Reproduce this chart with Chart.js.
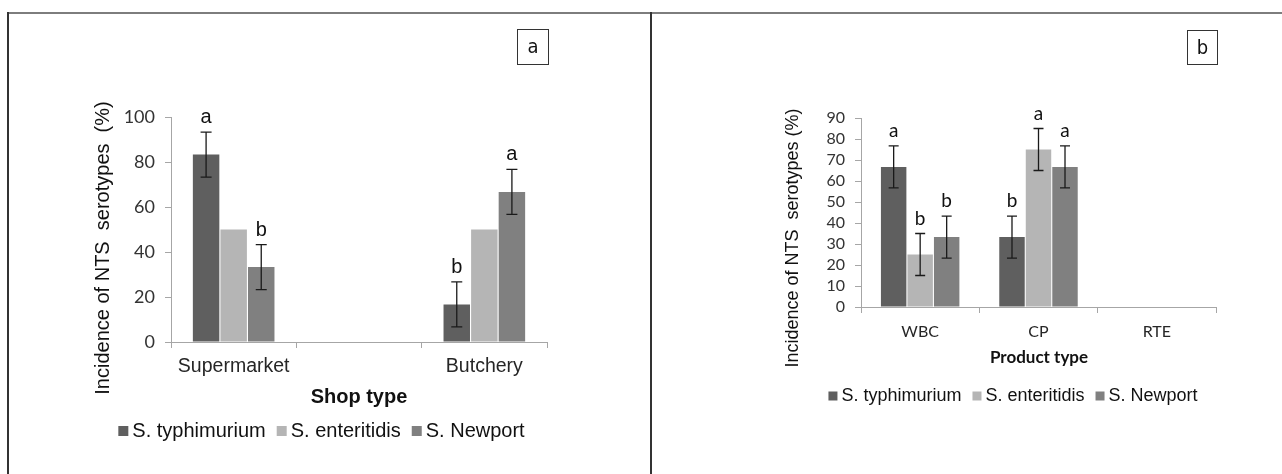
<!DOCTYPE html>
<html>
<head>
<meta charset="utf-8">
<script src="https://cdn.jsdelivr.net/npm/chart.js@4/dist/chart.umd.min.js"></script>
<style>
  html, body { margin: 0; padding: 0; background: #fff; }
  body { width: 1282px; height: 474px; position: relative; overflow: hidden; }
  .panel { position: absolute; top: 0; height: 474px; }
  .panel canvas { display: block; }
  #frameTop { position: absolute; left: 8px; top: 12px; width: 1274px; height: 2px; background: #7d7d7d; }
  #frameLeft { position: absolute; left: 7px; top: 12px; width: 2px; height: 462px; background: #333; }
  #frameMid { position: absolute; left: 650px; top: 12px; width: 2px; height: 462px; background: #333; }
  .tag {
    position: absolute; box-sizing: border-box; border: 1px solid #333;
    font-family: 'Liberation Sans Narrow', 'DejaVu Sans Condensed', 'Liberation Sans', sans-serif;
    font-size: 20px; color: #111; text-align: center;
  }
</style>
</head>
<body>
<div class="panel" style="left:0;width:651px;"><canvas id="shopChart" width="651" height="474"></canvas></div>
<div class="panel" style="left:651px;width:631px;"><canvas id="productChart" width="631" height="474"></canvas></div>
<div id="frameTop"></div>
<div id="frameLeft"></div>
<div id="frameMid"></div>
<div class="tag" style="left:517px;top:29px;width:32px;height:36px;line-height:33px;">a</div>
<div class="tag" style="left:1187px;top:30px;width:31px;height:35px;line-height:32px;">b</div>

<script>
// ---- Series names and colours ----
const seriesNames = ['S. typhimurium', 'S. enteritidis', 'S. Newport'];
const seriesColors = ['#5f5f5f', '#b5b5b5', '#808080'];

// ---- Panel a: incidence by shop type (%) ----
const shopTypes = ['Supermarket', '', 'Butchery'];
const shopTyphimurium = [83.3, null, 16.7];
const shopEnteritidis = [50, null, 50];
const shopNewport = [33.3, null, 66.7];
const shopTyphimuriumErr = [10, null, 10];
const shopEnteritidisErr = [null, null, null];
const shopNewportErr = [10, null, 10];
const shopTyphimuriumLetters = ['a', '', 'b'];
const shopEnteritidisLetters = ['', '', ''];
const shopNewportLetters = ['b', '', 'a'];
const shopTicks = { min: 0, max: 100, step: 20 };

// ---- Panel b: incidence by product type (%) ----
const productTypes = ['WBC', 'CP', 'RTE'];
const productTyphimurium = [66.7, 33.3, 0];
const productEnteritidis = [25, 75, 0];
const productNewport = [33.3, 66.7, 0];
const productTyphimuriumErr = [10, 10, null];
const productEnteritidisErr = [10, 10, null];
const productNewportErr = [10, 10, null];
const productTyphimuriumLetters = ['a', 'b', ''];
const productEnteritidisLetters = ['b', 'a', ''];
const productNewportLetters = ['b', 'a', ''];
const productTicks = { min: 0, max: 90, step: 10 };

// Error bars, significance letters, axis titles and legend
const panelDecor = {
  id: 'panelDecor',
  afterDatasetsDraw(chart, args, opts) {
    const ctx = chart.ctx;
    const yScale = chart.scales.y;
    ctx.save();
    chart.data.datasets.forEach((ds, di) => {
      const meta = chart.getDatasetMeta(di);
      meta.data.forEach((bar, i) => {
        const v = ds.data[i];
        if (v == null) return;
        const e = ds.errors ? ds.errors[i] : null;
        let top = bar.y;
        if (e != null) {
          const yHi = yScale.getPixelForValue(v + e);
          const yLo = yScale.getPixelForValue(v - e);
          const cap = opts.capHalf;
          ctx.strokeStyle = '#1a1a1a';
          ctx.lineWidth = 1.3;
          ctx.beginPath();
          ctx.moveTo(bar.x, yHi); ctx.lineTo(bar.x, yLo);
          ctx.moveTo(bar.x - cap, yHi); ctx.lineTo(bar.x + cap, yHi);
          ctx.moveTo(bar.x - cap, yLo); ctx.lineTo(bar.x + cap, yLo);
          ctx.stroke();
          top = yHi;
        }
        const letter = ds.letters ? ds.letters[i] : '';
        if (letter) {
          ctx.font = opts.letterFont;
          ctx.fillStyle = '#111';
          ctx.textAlign = 'center';
          ctx.textBaseline = 'alphabetic';
          ctx.fillText(letter, bar.x, top - opts.letterGap);
        }
      });
    });
    ctx.restore();
  },
  afterDraw(chart, args, opts) {
    const ctx = chart.ctx;
    ctx.save();
    // y-axis title
    ctx.translate(opts.yTitle.x, opts.yTitle.y);
    ctx.rotate(-Math.PI / 2);
    ctx.font = opts.yTitle.font;
    ctx.fillStyle = '#111';
    ctx.textAlign = 'center';
    ctx.textBaseline = 'middle';
    ctx.fillText(opts.yTitle.text, 0, 0);
    ctx.setTransform(1, 0, 0, 1, 0, 0);
    // x-axis title
    ctx.font = opts.xTitle.font;
    ctx.fillText(opts.xTitle.text, opts.xTitle.x, opts.xTitle.y);
    // legend
    ctx.font = opts.legend.font;
    ctx.textAlign = 'left';
    const items = chart.data.datasets.map(ds => ({ label: ds.label, color: ds.backgroundColor }));
    const box = opts.legend.box, gapText = 4, gapItem = 11;
    const widths = items.map(it => ctx.measureText(it.label).width);
    const total = widths.reduce((s, w) => s + box + gapText + w, 0) + gapItem * (items.length - 1);
    let x = opts.legend.x - total / 2;
    const ly = opts.legend.y;
    items.forEach((it, k) => {
      ctx.fillStyle = it.color;
      ctx.fillRect(x, ly - box / 2, box, box);
      ctx.fillStyle = '#111';
      ctx.fillText(it.label, x + box + gapText, ly);
      x += box + gapText + widths[k] + gapItem;
    });
    ctx.restore();
  }
};

function buildDatasets(values, errors, letters, groupShare) {
  return seriesNames.map((name, k) => ({
    label: name,
    data: values[k],
    errors: errors[k],
    letters: letters[k],
    backgroundColor: seriesColors[k],
    borderWidth: 0,
    categoryPercentage: groupShare,
    barPercentage: 0.96
  }));
}

function buildChart(id, cfg) {
  const axisColor = '#a6a6a6';
  return new Chart(document.getElementById(id), {
    type: 'bar',
    data: {
      labels: cfg.labels,
      datasets: buildDatasets(cfg.values, cfg.errors, cfg.letters, cfg.groupShare)
    },
    options: {
      responsive: false,
      animation: false,
      devicePixelRatio: 1,
      layout: { padding: cfg.padding },
      plugins: {
        legend: { display: false },
        tooltip: { enabled: false },
        panelDecor: cfg.decor
      },
      scales: {
        x: {
          grid: { drawOnChartArea: false, drawTicks: true, tickLength: 6, color: axisColor, offset: true },
          border: { display: true, color: axisColor, width: 1 },
          ticks: { font: cfg.xFont, color: '#262626', padding: cfg.xPad, maxRotation: 0, autoSkip: false },
          afterFit(s) { s.height = 50; }
        },
        y: {
          min: cfg.ticks.min,
          max: cfg.ticks.max,
          ticks: { stepSize: cfg.ticks.step, font: cfg.yFont, color: '#333', padding: 10, autoSkip: false },
          grid: { drawOnChartArea: false, drawTicks: true, tickLength: 6, color: axisColor },
          border: { display: true, color: axisColor, width: 1 },
          afterFit(s) { s.width = 60; }
        }
      }
    },
    plugins: [panelDecor]
  });
}

buildChart('shopChart', {
  labels: shopTypes,
  values: [shopTyphimurium, shopEnteritidis, shopNewport],
  errors: [shopTyphimuriumErr, shopEnteritidisErr, shopNewportErr],
  letters: [shopTyphimuriumLetters, shopEnteritidisLetters, shopNewportLetters],
  ticks: shopTicks,
  groupShare: 0.66,
  padding: { left: 111, right: 104, top: 117, bottom: 82 },
  xFont: { family: "'Liberation Sans', Arial, sans-serif", size: 19.5 },
  xPad: 7,
  yFont: { family: "Lato, sans-serif", size: 18 },
  decor: {
    capHalf: 5.5,
    letterGap: 9,
    letterFont: "20px 'Liberation Sans', Arial, sans-serif",
    yTitle: { text: 'Incidence of NTS  serotypes  (%)', x: 103, y: 248, font: "20px 'Liberation Sans', Arial, sans-serif" },
    xTitle: { text: 'Shop type', x: 359, y: 397, font: "bold 20px 'Liberation Sans', Arial, sans-serif" },
    legend: { x: 321.5, y: 431, box: 10, font: "20px 'Liberation Sans', Arial, sans-serif" }
  }
});

buildChart('productChart', {
  labels: productTypes,
  values: [productTyphimurium, productEnteritidis, productNewport],
  errors: [productTyphimuriumErr, productEnteritidisErr, productNewportErr],
  letters: [productTyphimuriumLetters, productEnteritidisLetters, productNewportLetters],
  ticks: productTicks,
  groupShare: 0.672,
  padding: { left: 150, right: 66, top: 118, bottom: 117 },
  xFont: { family: "Lato, sans-serif", size: 16 },
  xPad: 9,
  yFont: { family: "Lato, sans-serif", size: 16 },
  decor: {
    capHalf: 5,
    letterGap: 9,
    letterFont: "19px Lato, sans-serif",
    yTitle: { text: 'Incidence of NTS  serotypes (%)', x: 142, y: 238, font: "18px 'Liberation Sans', Arial, sans-serif" },
    xTitle: { text: 'Product type', x: 388, y: 358, font: "bold 17px Lato, sans-serif" },
    legend: { x: 362, y: 396, box: 9, font: "18px 'Liberation Sans', Arial, sans-serif" }
  }
});
</script>
</body>
</html>
